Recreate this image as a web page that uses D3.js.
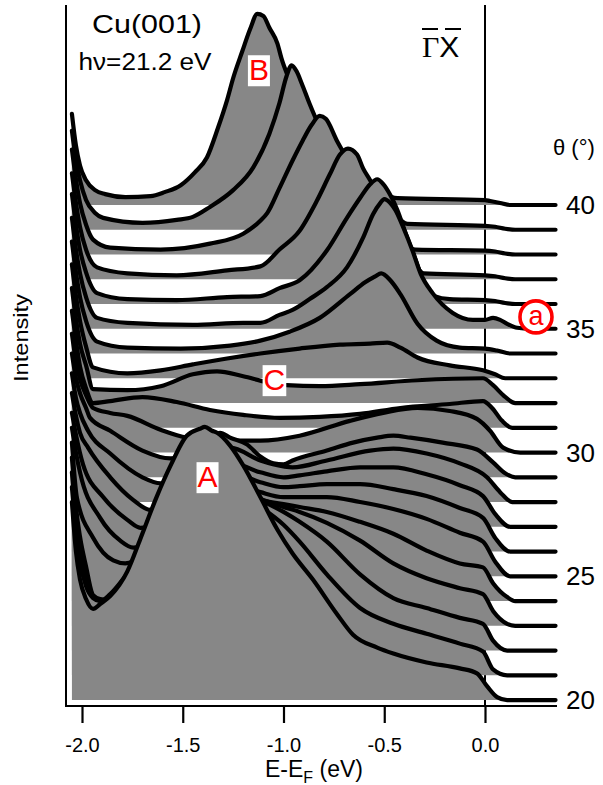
<!DOCTYPE html>
<html>
<head>
<meta charset="utf-8">
<title>Cu(001) hv=21.2 eV</title>
<script src="https://cdn.jsdelivr.net/npm/d3@7"></script>
<style>
  body { margin: 0; background: #fff; }
  svg text { font-family: "Liberation Sans", Arial, sans-serif; fill: #000; }
</style>
</head>
<body>
<svg id="chart" width="603" height="785"></svg>
<script>
// emission angles, one spectrum each; spectra are [E-EF (eV), intensity]
const thetas = [20, 21, 22, 23, 24, 25, 26, 27, 28, 29, 30, 31, 32, 33, 34, 35, 36, 37, 38, 39, 40];
const offsetStep = 25;   // vertical offset between spectra, intensity units
const xTicks = [-2.0, -1.5, -1.0, -0.5, 0.0];
const thetaLabels = [20, 25, 30, 35, 40];

const s40 = [[-2.05,92],[-2.03,60],[-2.01,40],[-1.98,25],[-1.935,15],[-1.885,11],[-1.785,8],[-1.66,9],[-1.59,13],[-1.51,20],[-1.44,33],[-1.38,48],[-1.325,78],[-1.28,106],[-1.25,128],[-1.205,155],[-1.165,178],[-1.13,193],[-1.10,191],[-1.07,179],[-1.03,163],[-1.01,148],[-0.97,126],[-0.92,101],[-0.82,62],[-0.72,38],[-0.62,22],[-0.52,12],[-0.435,7],[0,5],[0.025,4],[0.075,2],[0.125,0],[0.35,0]];
const s39 = [[-2.05,100],[-2.03,70],[-2.01,50],[-1.98,30],[-1.935,17],[-1.895,12],[-1.70,7],[-1.53,10],[-1.45,13],[-1.365,23],[-1.25,40],[-1.15,63],[-1.07,97],[-1.02,128],[-0.985,155],[-0.96,166],[-0.935,160],[-0.91,148],[-0.87,127],[-0.83,108],[-0.77,85],[-0.67,55],[-0.57,35],[-0.47,20],[-0.385,6],[0,4],[0.05,3],[0.10,1],[0.15,0],[0.35,0]];
const s38 = [[-2.05,106],[-2.03,76],[-2.01,52],[-1.98,30],[-1.945,15],[-1.86,7],[-1.61,5],[-1.365,11],[-1.20,21],[-1.115,34],[-1.08,42],[-1.02,67],[-0.955,95],[-0.905,115],[-0.86,131],[-0.82,140],[-0.79,137],[-0.735,115],[-0.695,100],[-0.645,80],[-0.57,55],[-0.47,30],[-0.345,5],[0,4],[0.05,3],[0.10,1],[0.15,0],[0.35,0]];
const s37 = [[-2.05,107],[-2.03,77],[-2.01,53],[-1.98,30],[-1.925,12],[-1.775,6],[-1.53,4],[-1.28,9],[-1.115,13],[-1.02,30],[-0.92,49],[-0.835,79],[-0.77,106],[-0.72,126],[-0.68,132],[-0.635,126],[-0.605,112],[-0.57,100],[-0.52,80],[-0.445,50],[-0.37,25],[-0.305,6],[0,4],[0.05,3],[0.10,1],[0.15,0],[0.35,0]];
const s36 = [[-2.05,111],[-2.03,80],[-2.01,55],[-1.98,32],[-1.925,11],[-1.775,5],[-1.53,4],[-1.28,7],[-1.115,8],[-1.02,16],[-0.92,24],[-0.785,54],[-0.685,87],[-0.62,107],[-0.57,121],[-0.535,126],[-0.505,121],[-0.47,110],[-0.435,95],[-0.395,72],[-0.345,45],[-0.30,20],[-0.25,8],[-0.175,5],[0,4],[0.05,3],[0.10,1],[0.15,0],[0.35,0]];
const s35 = [[-2.05,112],[-2.03,80],[-2.01,56],[-1.98,32],[-1.925,11],[-1.775,6],[-1.45,4],[-1.20,6],[-1.115,6],[-1.02,14],[-0.955,19],[-0.87,30],[-0.785,42],[-0.685,62],[-0.605,92],[-0.555,116],[-0.52,127],[-0.50,131],[-0.47,127],[-0.445,120],[-0.405,102],[-0.36,79],[-0.32,56],[-0.26,36],[-0.16,16],[-0.06,9],[0,9],[0.04,11],[0.075,9],[0.11,5],[0.16,1],[0.225,0],[0.35,0]];
const s34 = [[-2.05,113],[-2.03,82],[-2.01,57],[-1.98,33],[-1.925,12],[-1.775,6],[-1.51,5],[-1.265,8],[-1.115,13],[-0.97,22],[-0.82,36],[-0.67,60],[-0.595,72],[-0.545,78],[-0.515,81],[-0.47,74],[-0.42,60],[-0.335,30],[-0.24,13],[-0.125,6],[0,5],[0.06,3],[0.125,0],[0.35,0]];
const s33 = [[-2.05,115],[-2.03,83],[-2.01,58],[-1.98,32],[-1.945,11],[-1.775,5],[-1.61,8],[-1.45,14],[-1.28,20],[-1.115,25],[-0.92,30],[-0.72,34],[-0.57,35],[-0.485,36],[-0.42,31],[-0.335,21],[-0.175,13],[-0.01,8],[0.05,4],[0.10,0],[0.35,0]];
const s32 = [[-2.05,116],[-2.03,85],[-2.01,60],[-1.98,38],[-1.945,14],[-1.775,13],[-1.61,17],[-1.45,29],[-1.33,32],[-1.20,27],[-1.08,21],[-0.985,18],[-0.82,17],[-0.62,19],[-0.335,23],[-0.01,25],[0.04,18],[0.09,8],[0.15,0],[0.35,0]];
const s31 = [[-2.05,118],[-2.03,88],[-2.01,62],[-1.98,40],[-1.945,25],[-1.86,27],[-1.70,31],[-1.53,26],[-1.365,18],[-1.20,13],[-1.02,10],[-0.82,11],[-0.62,14],[-0.42,20],[-0.175,24],[-0.01,27],[0.035,20],[0.085,7],[0.135,0],[0.35,0]];
const s30 = [[-2.05,120],[-2.03,92],[-2.01,74],[-1.98,58],[-1.945,45],[-1.86,40],[-1.775,37],[-1.61,23],[-1.48,15],[-1.315,12],[-1.115,12],[-0.92,17],[-0.67,32],[-0.505,40],[-0.335,45],[-0.175,42],[-0.04,34],[0.025,22],[0.09,5],[0.175,0],[0.35,0]];
const s29 = [[-2.05,125],[-2.03,100],[-2.01,85],[-1.98,70],[-1.96,60],[-1.86,47],[-1.70,27],[-1.56,19],[-1.415,27],[-1.315,45],[-1.265,40],[-1.18,33],[-1.115,21],[-1.05,14],[-1.00,13],[-0.955,17],[-0.785,27],[-0.655,35],[-0.535,40],[-0.455,42],[-0.37,40],[-0.21,35],[-0.04,28],[0.04,15],[0.10,4],[0.15,0],[0.35,0]];
const s28 = [[-2.05,130],[-2.03,105],[-2.01,90],[-1.97,72],[-1.86,49],[-1.70,25],[-1.61,19],[-1.415,30],[-1.265,55],[-1.115,42],[-1.00,36],[-0.955,35],[-0.785,42],[-0.57,52],[-0.455,54],[-0.29,49],[-0.125,39],[0.01,25],[0.075,10],[0.135,0],[0.35,0]];
const s27 = [[-2.05,135],[-2.03,112],[-2.01,95],[-1.97,80],[-1.86,50],[-1.745,27],[-1.66,17],[-1.415,40],[-1.265,65],[-1.115,55],[-1.00,50],[-0.92,52],[-0.785,56],[-0.62,60],[-0.455,60],[-0.29,53],[-0.125,42],[-0.01,31],[0.05,13],[0.125,0],[0.35,0]];
const s26 = [[-2.05,140],[-2.03,118],[-1.995,88],[-1.895,55],[-1.775,32],[-1.71,24],[-1.415,55],[-1.265,80],[-1.115,70],[-1.00,65],[-0.92,66],[-0.785,68],[-0.62,68],[-0.455,63],[-0.29,56],[-0.125,44],[-0.01,34],[0.05,14],[0.125,0],[0.35,0]];
const s25 = [[-2.05,150],[-2.03,125],[-2.01,105],[-1.91,59],[-1.81,36],[-1.745,29],[-1.415,70],[-1.265,95],[-1.115,85],[-1.00,80],[-0.92,80],[-0.785,80],[-0.62,75],[-0.455,68],[-0.29,58],[-0.125,44],[-0.01,35],[0.05,15],[0.125,0],[0.35,0]];
const s24 = [[-2.05,160],[-2.025,104],[-1.945,64],[-1.845,41],[-1.785,38],[-1.66,50],[-1.415,90],[-1.265,115],[-1.115,102],[-1.00,98],[-0.92,95],[-0.785,90],[-0.62,80],[-0.455,68],[-0.29,51],[-0.125,38],[-0.01,34],[0.04,18],[0.11,4],[0.15,0],[0.35,0]];
const s23 = [[-2.05,170],[-2.03,120],[-2.01,90],[-1.98,60],[-1.945,31],[-1.91,27],[-1.86,26],[-1.785,30],[-1.66,50],[-1.415,100],[-1.265,140],[-1.115,128],[-1.00,120],[-0.92,115],[-0.785,104],[-0.62,86],[-0.455,63],[-0.29,48],[-0.125,38],[-0.01,32],[0.04,15],[0.11,2],[0.15,0],[0.35,0]];
const s22 = [[-2.05,180],[-2.03,130],[-2.01,100],[-1.98,75],[-1.945,55],[-1.91,50],[-1.86,52],[-1.785,70],[-1.66,105],[-1.415,160],[-1.265,165],[-1.115,152],[-1.00,140],[-0.92,130],[-0.785,110],[-0.62,77],[-0.455,53],[-0.29,43],[-0.125,33],[-0.01,27],[0.04,10],[0.11,0],[0.35,0]];
const s21 = [[-2.05,190],[-2.03,145],[-2.01,115],[-1.98,90],[-1.945,78],[-1.91,75],[-1.86,82],[-1.785,100],[-1.66,135],[-1.415,190],[-1.265,190],[-1.115,170],[-1.00,152],[-0.92,135],[-0.785,102],[-0.62,68],[-0.455,52],[-0.29,42],[-0.125,32],[-0.01,24],[0.04,6],[0.11,0],[0.35,0]];
const s20 = [[-2.05,200],[-2.03,150],[-2.01,122],[-1.98,102],[-1.945,92],[-1.91,97],[-1.86,105],[-1.775,130],[-1.71,163],[-1.63,205],[-1.56,237],[-1.48,267],[-1.415,274],[-1.39,276],[-1.355,272],[-1.33,270],[-1.265,257],[-1.20,237],[-1.115,205],[-1.03,172],[-0.955,148],[-0.855,122],[-0.735,87],[-0.655,66],[-0.535,53],[-0.455,47],[-0.29,38],[-0.125,32],[-0.04,27],[0.01,14],[0.06,3],[0.11,0],[0.35,0]];

const spectra = [s20, s21, s22, s23, s24, s25, s26, s27, s28, s29, s30, s31, s32, s33, s34, s35, s36, s37, s38, s39, s40];

const svg = d3.select('#chart');

const x = d3.scaleLinear().domain([-2.0, 0.0]).range([82, 485]);
const y = d3.scaleLinear().domain([-6, 702]).range([706, 5]);

const plotLeft = 66, plotRight = 557, plotTop = 5, plotBottom = 706;

// Fermi level marker, sits under the spectra
svg.append('line')
    .attr('x1', x(0)).attr('x2', x(0))
    .attr('y1', plotTop).attr('y2', plotBottom)
    .attr('stroke', '#000').attr('stroke-width', 2);

const curve = d3.curveMonotoneX;

// top spectrum first so the lower ones cover it
const order = d3.range(thetas.length).reverse();
const g = svg.append('g');
order.forEach(i => {
    const off = (thetas[i] - thetas[0]) * offsetStep;
    const area = d3.area()
        .x(d => x(d[0]))
        .y0(y(off))
        .y1(d => y(off + d[1]))
        .curve(curve);
    const line = d3.line()
        .x(d => x(d[0]))
        .y(d => y(off + d[1]))
        .curve(curve);
    g.append('path')
        .attr('d', area(spectra[i]))
        .attr('fill', '#878787');
    g.append('path')
        .attr('d', line(spectra[i]))
        .attr('fill', 'none')
        .attr('stroke', '#000')
        .attr('stroke-width', 4.2)
        .attr('stroke-linejoin', 'round')
        .attr('stroke-linecap', 'round');
});

// axes
svg.append('line')
    .attr('x1', plotLeft).attr('x2', plotLeft).attr('y1', plotTop).attr('y2', plotBottom + 1)
    .attr('stroke', '#000').attr('stroke-width', 2);
svg.append('line')
    .attr('x1', plotLeft - 1).attr('x2', plotRight).attr('y1', plotBottom).attr('y2', plotBottom)
    .attr('stroke', '#000').attr('stroke-width', 2.2);

const xAxis = svg.append('g')
    .attr('transform', `translate(0,${plotBottom})`)
    .call(d3.axisBottom(x).tickValues(xTicks).tickSize(17).tickPadding(15)
        .tickFormat(d => d.toFixed(1)));
xAxis.select('.domain').remove();
xAxis.selectAll('.tick line').attr('stroke-width', 2.2);
xAxis.selectAll('.tick text')
    .attr('font-size', 20)
    .attr('font-family', '"Liberation Sans", Arial, sans-serif')
    .attr('fill', '#000');

// x label
const xl = svg.append('text')
    .attr('x', 314).attr('y', 777)
    .attr('text-anchor', 'middle')
    .attr('font-size', 23);
xl.append('tspan').text('E-E');
xl.append('tspan').attr('font-size', 16).attr('dy', 6).text('F');
xl.append('tspan').attr('dy', -6).text(' (eV)');

// y label
svg.append('text')
    .attr('transform', 'translate(28,338) rotate(-90)')
    .attr('text-anchor', 'middle')
    .attr('font-size', 21)
    .attr('textLength', 88)
    .attr('lengthAdjust', 'spacingAndGlyphs')
    .text('Intensity');

// theta labels on the right
svg.append('text')
    .attr('x', 553).attr('y', 155)
    .attr('font-size', 22)
    .text('θ (°)');
svg.selectAll('text.theta')
    .data(thetaLabels)
    .join('text')
    .attr('class', 'theta')
    .attr('x', 566)
    .attr('y', d => y((d - thetas[0]) * offsetStep))
    .attr('dy', '0.35em')
    .attr('font-size', 26)
    .text(d => d);

// titles
svg.append('text')
    .attr('x', 147).attr('y', 33)
    .attr('text-anchor', 'middle')
    .attr('font-size', 26)
    .attr('textLength', 110)
    .attr('lengthAdjust', 'spacingAndGlyphs')
    .text('Cu(001)');
svg.append('text')
    .attr('x', 145).attr('y', 70)
    .attr('text-anchor', 'middle')
    .attr('font-size', 23)
    .attr('textLength', 133)
    .attr('lengthAdjust', 'spacingAndGlyphs')
    .text('hν=21.2 eV');

// direction label with bars
const gx = svg.append('text')
    .attr('x', 422).attr('y', 57)
    .attr('font-size', 30);
gx.append('tspan').attr('font-family', '"Liberation Serif", serif').text('Γ');
gx.append('tspan').text('X');
[[422, 438], [445, 461]].forEach(b => {
    svg.append('line')
        .attr('x1', b[0]).attr('x2', b[1]).attr('y1', 29).attr('y2', 29)
        .attr('stroke', '#000').attr('stroke-width', 2);
});

// feature labels
const marks = [
    { t: 'B', e: -1.122, v: 626 },
    { t: 'C', e: -1.045, v: 313 },
    { t: 'A', e: -1.377, v: 215 }
];
marks.forEach(m => {
    const t = svg.append('text')
        .attr('x', x(m.e)).attr('y', y(m.v))
        .attr('text-anchor', 'middle')
        .attr('font-size', 30)
        .style('fill', '#ff0000')
        .text(m.t);
    const bb = t.node().getBBox();
    svg.insert('rect', () => t.node())
        .attr('x', bb.x - 1).attr('y', bb.y + 2)
        .attr('width', bb.width + 2).attr('height', bb.height - 2)
        .attr('fill', '#fff');
});

// surface state marker
const ax = x(0.253), ay = y(387);
svg.append('circle')
    .attr('cx', ax).attr('cy', ay).attr('r', 16)
    .attr('fill', '#fff')
    .attr('stroke', '#ff0000').attr('stroke-width', 3.6);
svg.append('text')
    .attr('x', ax).attr('y', ay + 8)
    .attr('text-anchor', 'middle')
    .attr('font-size', 27)
    .style('fill', '#ff0000')
    .text('a');
</script>
</body>
</html>
